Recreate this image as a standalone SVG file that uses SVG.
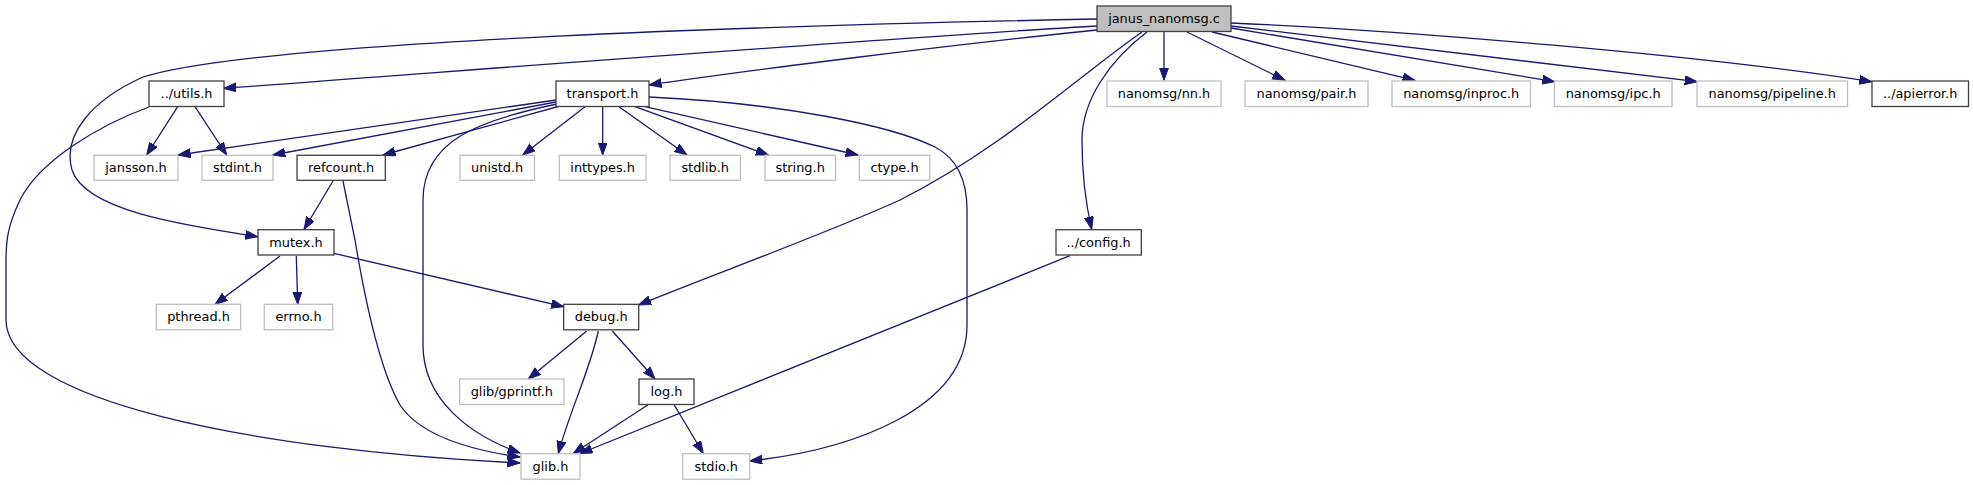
<svg xmlns="http://www.w3.org/2000/svg" width="1973" height="485" viewBox="0 0 1973 485">
<style>
.n rect{fill:#ffffff;stroke:#404040;stroke-width:1.3}
.g rect{fill:#ffffff;stroke:#bfbfbf;stroke-width:1.3}
.root rect{fill:#bfbfbf;stroke:#404040;stroke-width:1.3}
text{font-family:"DejaVu Sans",sans-serif;font-size:12.9px;fill:#000000;text-anchor:middle}
#edges path{fill:none;stroke:#191970;stroke-width:1.3;marker-end:url(#arr)}
</style>
<defs>
<marker id="arr" markerUnits="userSpaceOnUse" markerWidth="14" markerHeight="10" refX="12.5" refY="4.5" orient="auto">
<path d="M0,0 L12.5,4.5 L0,9 z" fill="#191970" stroke="#191970" stroke-width="1"/>
</marker>
</defs>
<rect width="1973" height="485" fill="#ffffff"/>
<g id="edges">
<path d="M1097,19 C800,25 260,40 143,77 C92,100 62,135 72,170 C85,210 180,225 257.7,236.7"/>
<path d="M1097,26 C900,37 500,68 223.7,88.3"/>
<path d="M1097,30 C950,45 750,70 649,85"/>
<path d="M1142,32 C1080,75 1000,150 900,200 C830,232 720,272 638.5,305"/>
<path d="M1147,32 C1110,60 1082,100 1082,140 C1082,180 1086,205 1091.7,229.3"/>
<path d="M1164,32 L1164,80.3"/>
<path d="M1187,32 L1285,80.3"/>
<path d="M1212,32 L1415,80.3"/>
<path d="M1231,28 L1554.7,81.7"/>
<path d="M1231,26 L1697.3,81.7"/>
<path d="M1231,23 C1400,30 1700,55 1871.7,81.7"/>
<path d="M149,107 C100,125 40,160 20,200 C8,225 6,240 6,260 L6,320 C6,400 250,450 520,463"/>
<path d="M177.7,106.7 L146.7,155"/>
<path d="M195,106.7 L226.7,155"/>
<path d="M556,100 L178,155"/>
<path d="M556,102 L272.7,155"/>
<path d="M560,106 L383,155"/>
<path d="M557,104 C480,120 423,140 423,200 L423,345 C423,400 470,435 520,453"/>
<path d="M585,106.7 L522.7,155"/>
<path d="M602.7,106.7 L602.7,155"/>
<path d="M619,106.7 L687,155"/>
<path d="M635,106.7 L768.3,155"/>
<path d="M645,106.7 L858,155"/>
<path d="M649,97 C780,103 890,125 935,147 C960,160 967,185 967,210 L967,325 C967,410 850,450 749.7,461"/>
<path d="M333,181 L304,229.5"/>
<path d="M343,181 L355,240 C365,300 380,370 400,405 C420,435 470,450 520,457"/>
<path d="M280,256 L215,304.3"/>
<path d="M296.3,256 L297.7,304.3"/>
<path d="M333.7,253.3 L563.7,306.7"/>
<path d="M586.7,331 L528.3,379"/>
<path d="M598.3,331 C590,370 570,410 558.3,453.5"/>
<path d="M612.3,331 L655,379"/>
<path d="M647.7,405 L573.3,453.5"/>
<path d="M674.3,405 L703.3,453.5"/>
<path d="M1070,255.7 L580,453.5"/>
</g>
<g id="janus_nanomsg_c" class="root"><rect x="1097" y="6" width="134" height="25.5"/><text x="1164" y="23">janus_nanomsg.c</text></g>
<g id="utils_h" class="n"><rect x="149" y="81" width="75" height="25.5"/><text x="186.5" y="98">../utils.h</text></g>
<g id="transport_h" class="n"><rect x="556" y="81" width="93" height="25.5"/><text x="602.5" y="98">transport.h</text></g>
<g id="nanomsg_nn_h" class="g"><rect x="1107" y="81" width="114" height="25.5"/><text x="1164" y="98">nanomsg/nn.h</text></g>
<g id="nanomsg_pair_h" class="g"><rect x="1245" y="81" width="123" height="25.5"/><text x="1306.5" y="98">nanomsg/pair.h</text></g>
<g id="nanomsg_inproc_h" class="g"><rect x="1392" y="81" width="138.5" height="25.5"/><text x="1461.2" y="98">nanomsg/inproc.h</text></g>
<g id="nanomsg_ipc_h" class="g"><rect x="1554.5" y="81" width="117.5" height="25.5"/><text x="1613.2" y="98">nanomsg/ipc.h</text></g>
<g id="nanomsg_pipeline_h" class="g"><rect x="1697" y="81" width="150.5" height="25.5"/><text x="1772.2" y="98">nanomsg/pipeline.h</text></g>
<g id="apierror_h" class="n"><rect x="1872" y="81" width="96.5" height="25.5"/><text x="1920.2" y="98">../apierror.h</text></g>
<g id="jansson_h" class="g"><rect x="94" y="155.3" width="84" height="25"/><text x="136" y="172.3">jansson.h</text></g>
<g id="stdint_h" class="g"><rect x="202" y="155.3" width="71" height="25"/><text x="237.5" y="172.3">stdint.h</text></g>
<g id="refcount_h" class="n"><rect x="297" y="155.3" width="88.3" height="25"/><text x="341.1" y="172.3">refcount.h</text></g>
<g id="unistd_h" class="g"><rect x="460" y="155.3" width="74.5" height="25"/><text x="497.2" y="172.3">unistd.h</text></g>
<g id="inttypes_h" class="g"><rect x="559.3" y="155.3" width="86.7" height="25"/><text x="602.6" y="172.3">inttypes.h</text></g>
<g id="stdlib_h" class="g"><rect x="670" y="155.3" width="70.5" height="25"/><text x="705.2" y="172.3">stdlib.h</text></g>
<g id="string_h" class="g"><rect x="765" y="155.3" width="70.5" height="25"/><text x="800.2" y="172.3">string.h</text></g>
<g id="ctype_h" class="g"><rect x="859.3" y="155.3" width="70.5" height="25"/><text x="894.5" y="172.3">ctype.h</text></g>
<g id="mutex_h" class="n"><rect x="258" y="229.7" width="76" height="25.3"/><text x="296" y="246.7">mutex.h</text></g>
<g id="config_h" class="n"><rect x="1056" y="229.7" width="85.3" height="25.3"/><text x="1098.6" y="246.7">../config.h</text></g>
<g id="pthread_h" class="g"><rect x="156.3" y="304.3" width="84.4" height="25.5"/><text x="198.5" y="321.3">pthread.h</text></g>
<g id="errno_h" class="g"><rect x="264.3" y="304.3" width="68.4" height="25.5"/><text x="298.5" y="321.3">errno.h</text></g>
<g id="debug_h" class="n"><rect x="563.7" y="304.3" width="75" height="25.5"/><text x="601.2" y="321.3">debug.h</text></g>
<g id="glib_gprintf_h" class="g"><rect x="459.7" y="379" width="104.3" height="25.5"/><text x="511.8" y="396">glib/gprintf.h</text></g>
<g id="log_h" class="n"><rect x="639" y="379" width="55" height="25.5"/><text x="666.5" y="396">log.h</text></g>
<g id="glib_h" class="g"><rect x="521" y="453.7" width="59" height="25.5"/><text x="550.5" y="470.7">glib.h</text></g>
<g id="stdio_h" class="g"><rect x="682.7" y="453.7" width="67" height="25.5"/><text x="716.2" y="470.7">stdio.h</text></g>
</svg>
